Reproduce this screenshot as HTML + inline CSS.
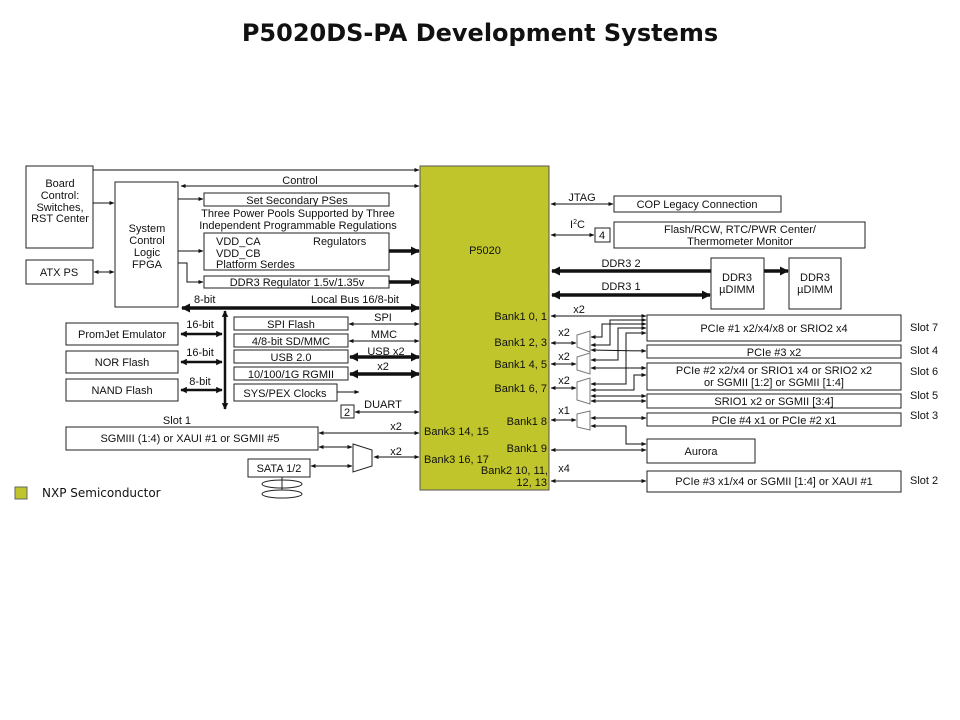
<!DOCTYPE html>
<html><head><meta charset="utf-8"><style>
html,body{margin:0;padding:0;background:#fff;}
svg{display:block;}
text{font-family:"Liberation Sans",Arial,sans-serif;font-size:11px;fill:#111;}
.t{font-size:11.5px;}
</style></head><body>
<svg width="960" height="720" viewBox="0 0 960 720" xmlns="http://www.w3.org/2000/svg">
<defs>
<marker id="a" viewBox="0 0 10 10" refX="9" refY="5" markerWidth="5" markerHeight="5" orient="auto-start-reverse"><path d="M0,1 L10,5 L0,9 z" fill="#111"/></marker>
<marker id="b" viewBox="0 0 10 10" refX="9" refY="5" markerWidth="2.6" markerHeight="2.6" orient="auto-start-reverse"><path d="M0,0 L10,5 L0,10 z" fill="#111"/></marker>
</defs>
<text x="480" y="41" text-anchor="middle" style="font-family:'DejaVu Sans',sans-serif;font-size:24px;font-weight:bold">P5020DS-PA Development Systems</text>

<g fill="none" stroke="#222" stroke-width="1">
<rect x="420" y="166" width="129" height="324" fill="#bfc52b" stroke="#555"/>
<rect x="26" y="166" width="67" height="82"/>
<rect x="115" y="182" width="63" height="125"/>
<rect x="26" y="260" width="67" height="24"/>
<rect x="204" y="193" width="185" height="13"/>
<rect x="204" y="233" width="185" height="37"/>
<rect x="204" y="276" width="185" height="12"/>
<rect x="66" y="323" width="112" height="22"/>
<rect x="66" y="351" width="112" height="22"/>
<rect x="66" y="379" width="112" height="22"/>
<rect x="234" y="317" width="114" height="13"/>
<rect x="234" y="334" width="114" height="13"/>
<rect x="234" y="350" width="114" height="13"/>
<rect x="234" y="367" width="114" height="13"/>
<rect x="234" y="384" width="103" height="17"/>
<rect x="341" y="405" width="13" height="13"/>
<rect x="66" y="427" width="252" height="23"/>
<rect x="248" y="459" width="62" height="18"/>
<path d="M353,444 L372,450 L372,466 L353,472 z"/>
<ellipse cx="282" cy="484" rx="20" ry="4"/><ellipse cx="282" cy="494" rx="20" ry="4"/><path d="M282,477 L282,490"/>
<rect x="614" y="196" width="167" height="16"/>
<rect x="595" y="228" width="15" height="14"/>
<rect x="614" y="222" width="251" height="26"/>
<rect x="711" y="258" width="53" height="51"/>
<rect x="789" y="258" width="52" height="51"/>
<rect x="647" y="315" width="254" height="26"/>
<rect x="647" y="345" width="254" height="13"/>
<rect x="647" y="363" width="254" height="27"/>
<rect x="647" y="394" width="254" height="14"/>
<rect x="647" y="413" width="254" height="13"/>
<rect x="647" y="439" width="108" height="24"/>
<rect x="647" y="471" width="254" height="21"/>
<path d="M577,335 L590,331 L590,352 L577,347 z" stroke="#777"/>
<path d="M577,357 L590,353 L590,374 L577,370 z" stroke="#777"/>
<path d="M577,382 L590,378 L590,404 L577,400 z" stroke="#777"/>
<path d="M577,414 L590,411 L590,430 L577,427 z" stroke="#777"/>
</g>

<g stroke="#111" stroke-width="1" fill="none" marker-end="url(#a)">
<path d="M93,170 L419,170"/>
<path d="M181,186 L419,186" marker-start="url(#a)"/>
<path d="M178,199 L203,199"/>
<path d="M178,251 L203,251"/>
<path d="M178,263 L187,263 L187,282 L203,282"/>
<path d="M93,203 L114,203"/>
<path d="M94,272 L114,272" marker-start="url(#a)"/>
<path d="M337,392 L359,392"/>
<path d="M355,412 L419,412" marker-start="url(#a)"/>
<path d="M349,324 L419,324" marker-start="url(#a)"/>
<path d="M349,341 L419,341" marker-start="url(#a)"/>
<path d="M319,433 L419,433" marker-start="url(#a)"/>
<path d="M319,447 L352,447" marker-start="url(#a)"/>
<path d="M311,466 L352,466" marker-start="url(#a)"/>
<path d="M374,457 L419,457" marker-start="url(#a)"/>
<path d="M551,204 L613,204" marker-start="url(#a)"/>
<path d="M551,235 L594,235" marker-start="url(#a)"/>
<path d="M551,316 L646,316" marker-start="url(#a)"/>
<path d="M551,343 L576,343" marker-start="url(#a)"/>
<path d="M551,364 L576,364" marker-start="url(#a)"/>
<path d="M551,388 L576,388" marker-start="url(#a)"/>
<path d="M551,420 L576,420" marker-start="url(#a)"/>
<path d="M551,450 L646,450" marker-start="url(#a)"/>
<path d="M551,481 L646,481" marker-start="url(#a)"/>
<path d="M591,337 L602,337 L602,324 L646,324" marker-start="url(#a)"/>
<path d="M591,345 L610,345 L610,320 L646,320" marker-start="url(#a)"/>
<path d="M591,350 L646,351" marker-start="url(#a)"/>
<path d="M591,360 L618,360 L618,328 L646,328" marker-start="url(#a)"/>
<path d="M591,368 L646,368" marker-start="url(#a)"/>
<path d="M591,384 L626,384 L626,333 L646,333" marker-start="url(#a)"/>
<path d="M591,390 L634,390 L634,375 L646,375" marker-start="url(#a)"/>
<path d="M591,396 L646,396" marker-start="url(#a)"/>
<path d="M591,401 L646,401" marker-start="url(#a)"/>
<path d="M591,418 L646,418" marker-start="url(#a)"/>
<path d="M591,426 L626,426 L626,444 L646,444" marker-start="url(#a)"/>
</g>
<g stroke="#111" stroke-width="3.5" fill="none" marker-end="url(#b)">
<path d="M389,251 L419,251"/>
<path d="M389,282 L419,282"/>
<path d="M182,308 L419,308" marker-start="url(#b)"/>
<path d="M225,311 L225,409" stroke-width="2.5" marker-start="url(#b)"/>
<path d="M181,334 L222,334" stroke-width="2.5" marker-start="url(#b)"/>
<path d="M181,362 L222,362" stroke-width="2.5" marker-start="url(#b)"/>
<path d="M181,390 L222,390" stroke-width="2.5" marker-start="url(#b)"/>
<path d="M350,357 L419,357" marker-start="url(#b)"/>
<path d="M350,374 L419,374" marker-start="url(#b)"/>
<path d="M711,271 L552,271"/>
<path d="M552,295 L710,295" marker-start="url(#b)"/>
<path d="M764,271 L788,271"/>
</g>

<g class="t">
<text x="60" y="187" text-anchor="middle">Board</text>
<text x="60" y="199" text-anchor="middle">Control:</text>
<text x="60" y="211" text-anchor="middle">Switches,</text>
<text x="60" y="222" text-anchor="middle">RST Center</text>
<text x="147" y="232" text-anchor="middle">System</text>
<text x="147" y="244" text-anchor="middle">Control</text>
<text x="147" y="256" text-anchor="middle">Logic</text>
<text x="147" y="268" text-anchor="middle">FPGA</text>
<text x="59" y="276" text-anchor="middle">ATX PS</text>
<text x="300" y="184" text-anchor="middle">Control</text>
<text x="297" y="204" text-anchor="middle">Set Secondary PSes</text>
<text x="298" y="217" text-anchor="middle">Three Power Pools Supported by Three</text>
<text x="298" y="229" text-anchor="middle">Independent Programmable Regulations</text>
<text x="216" y="245">VDD_CA</text><text x="313" y="245">Regulators</text>
<text x="216" y="257">VDD_CB</text>
<text x="216" y="268">Platform Serdes</text>
<text x="297" y="286" text-anchor="middle">DDR3 Regulator  1.5v/1.35v</text>
<text x="194" y="303">8-bit</text>
<text x="399" y="303" text-anchor="end">Local Bus 16/8-bit</text>
<text x="122" y="338" text-anchor="middle">PromJet Emulator</text>
<text x="122" y="366" text-anchor="middle">NOR Flash</text>
<text x="122" y="394" text-anchor="middle">NAND Flash</text>
<text x="200" y="328" text-anchor="middle">16-bit</text>
<text x="200" y="356" text-anchor="middle">16-bit</text>
<text x="200" y="385" text-anchor="middle">8-bit</text>
<text x="291" y="328" text-anchor="middle">SPI Flash</text>
<text x="291" y="345" text-anchor="middle">4/8-bit SD/MMC</text>
<text x="291" y="361" text-anchor="middle">USB 2.0</text>
<text x="291" y="378" text-anchor="middle">10/100/1G RGMII</text>
<text x="285" y="397" text-anchor="middle">SYS/PEX Clocks</text>
<text x="383" y="321" text-anchor="middle">SPI</text>
<text x="384" y="338" text-anchor="middle">MMC</text>
<text x="386" y="355" text-anchor="middle">USB x2</text>
<text x="383" y="370" text-anchor="middle">x2</text>
<text x="347" y="416" text-anchor="middle">2</text>
<text x="383" y="408" text-anchor="middle">DUART</text>
<text x="177" y="424" text-anchor="middle">Slot 1</text>
<text x="190" y="442" text-anchor="middle">SGMIII (1:4) or XAUI #1 or SGMII #5</text>
<text x="396" y="430" text-anchor="middle">x2</text>
<text x="396" y="455" text-anchor="middle">x2</text>
<text x="279" y="472" text-anchor="middle">SATA 1/2</text>
<text x="485" y="254" text-anchor="middle">P5020</text>
<text x="424" y="435">Bank3 14, 15</text>
<text x="424" y="463">Bank3 16, 17</text>
<text x="547" y="320" text-anchor="end">Bank1 0, 1</text>
<text x="547" y="346" text-anchor="end">Bank1 2, 3</text>
<text x="547" y="368" text-anchor="end">Bank1 4, 5</text>
<text x="547" y="392" text-anchor="end">Bank1 6, 7</text>
<text x="547" y="425" text-anchor="end">Bank1 8</text>
<text x="547" y="452" text-anchor="end">Bank1 9</text>
<text x="548" y="474" text-anchor="end">Bank2 10, 11,</text>
<text x="547" y="486" text-anchor="end">12, 13</text>
<text x="579" y="313" text-anchor="middle">x2</text>
<text x="564" y="336" text-anchor="middle">x2</text>
<text x="564" y="360" text-anchor="middle">x2</text>
<text x="564" y="384" text-anchor="middle">x2</text>
<text x="564" y="414" text-anchor="middle">x1</text>
<text x="564" y="472" text-anchor="middle">x4</text>
<text x="582" y="201" text-anchor="middle">JTAG</text>
<text x="570" y="228">I<tspan dy="-4" style="font-size:7px">2</tspan><tspan dy="4">C</tspan></text>
<text x="602" y="239" text-anchor="middle">4</text>
<text x="697" y="208" text-anchor="middle">COP Legacy Connection</text>
<text x="740" y="233" text-anchor="middle">Flash/RCW, RTC/PWR Center/</text>
<text x="740" y="245" text-anchor="middle">Thermometer Monitor</text>
<text x="621" y="267" text-anchor="middle">DDR3 2</text>
<text x="621" y="290" text-anchor="middle">DDR3 1</text>
<text x="737" y="281" text-anchor="middle">DDR3</text>
<text x="737" y="293" text-anchor="middle">µDIMM</text>
<text x="815" y="281" text-anchor="middle">DDR3</text>
<text x="815" y="293" text-anchor="middle">µDIMM</text>
<text x="774" y="332" text-anchor="middle">PCIe #1 x2/x4/x8 or SRIO2 x4</text>
<text x="774" y="356" text-anchor="middle">PCIe #3 x2</text>
<text x="774" y="374" text-anchor="middle">PCIe #2 x2/x4 or SRIO1 x4 or SRIO2 x2</text>
<text x="774" y="386" text-anchor="middle">or SGMII [1:2] or SGMII [1:4]</text>
<text x="774" y="405" text-anchor="middle">SRIO1 x2 or SGMII [3:4]</text>
<text x="774" y="424" text-anchor="middle">PCIe #4 x1 or PCIe #2 x1</text>
<text x="701" y="455" text-anchor="middle">Aurora</text>
<text x="774" y="485" text-anchor="middle">PCIe #3 x1/x4 or SGMII [1:4] or XAUI #1</text>
<text x="910" y="331">Slot 7</text>
<text x="910" y="354">Slot 4</text>
<text x="910" y="375">Slot 6</text>
<text x="910" y="399">Slot 5</text>
<text x="910" y="419">Slot 3</text>
<text x="910" y="484">Slot 2</text>
</g>
<rect x="15" y="487" width="12" height="12" fill="#bfc52b" stroke="#666"/>
<text x="42" y="497" style="font-family:'DejaVu Sans',sans-serif;font-size:12px">NXP Semiconductor</text>
</svg>
</body></html>
